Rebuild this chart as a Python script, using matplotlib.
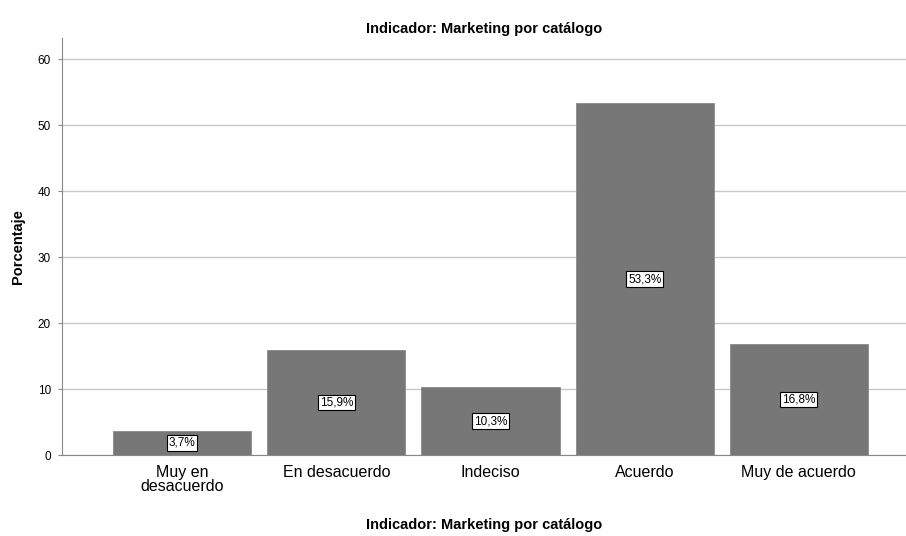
import matplotlib
matplotlib.use("Agg")
import matplotlib.pyplot as plt
import numpy as np

categories = ["Muy en\ndesacuerdo", "En desacuerdo", "Indeciso", "Acuerdo", "Muy de acuerdo"]
percentages = [3.7, 15.9, 10.3, 53.3, 16.8]
bar_labels = ["3,7%", "15,9%", "10,3%", "53,3%", "16,8%"]
y_ticks = [0, 10, 20, 30, 40, 50, 60]

plt.rcParams["font.family"] = ["Liberation Sans", "DejaVu Sans"]

fig = plt.figure(figsize=(9.06, 5.36), dpi=100)
ax = fig.add_axes([0.0684, 0.151, 0.9316, 0.778])

x = np.arange(len(categories))
ax.bar(x, percentages, width=138 / 154, color="#777777", edgecolor="#8a8a8a",
       linewidth=0.6, zorder=3)

for xi, v, lab in zip(x, percentages, bar_labels):
    ax.text(xi, v / 2, lab, ha="center", va="center", fontsize=8.5, zorder=5,
            bbox=dict(boxstyle="square,pad=0.15", facecolor="white",
                      edgecolor="black", linewidth=0.8))

ax.set_xlim(-0.779, 4.695)
ax.set_ylim(0, 63.2)
ax.set_yticks(y_ticks)
ax.set_yticklabels([str(t) for t in y_ticks], fontsize=8.5)
ax.set_xticks(x)
ax.set_xticklabels(categories, fontsize=11.5, linespacing=0.95)
ax.tick_params(axis="y", length=3, color="#888888", pad=5)
ax.tick_params(axis="x", length=0, pad=7)

ax.yaxis.grid(True, color="#c8c8c8", linewidth=1.0, zorder=0)
ax.set_axisbelow(True)
for s in ["top", "right"]:
    ax.spines[s].set_visible(False)
ax.spines["left"].set_color("#888888")
ax.spines["bottom"].set_color("#888888")

ax.set_ylabel("Porcentaje", fontsize=10.5, fontweight="bold", labelpad=9)
ax.set_xlabel("Indicador: Marketing por catálogo", fontsize=10.5, fontweight="bold", labelpad=17)
ax.set_title("Indicador: Marketing por catálogo", fontsize=10.5, fontweight="bold", pad=4)

fig.savefig("out.png", dpi=100)
